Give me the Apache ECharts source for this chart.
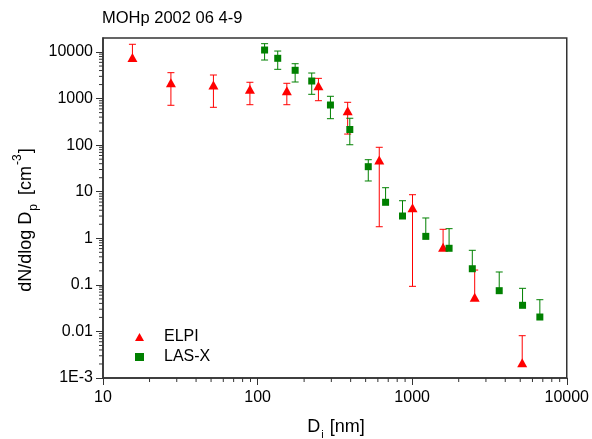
<!DOCTYPE html>
<html><head><meta charset="utf-8">
<script src="https://cdn.jsdelivr.net/npm/echarts@6/dist/echarts.min.js"></script>
<style>html,body{margin:0;padding:0;background:#fff}#c{width:592px;height:439px}</style>
</head><body><div id="c"></div>
<script>
// ELPI: diameter (nm), dN/dlogDp, lower, upper
const elpiX  = [15.5, 27.5, 51.8, 89.2, 154.6, 247.5, 382.6, 612.5, 1005, 1585, 2538, 5150];
const elpiY  = [7600, 2190, 1955, 1582, 1476, 1890, 549, 48, 4.54, 0.64, 0.054, 0.00213];
const elpiLo = [7600, 718, 650, 739, 739, 900, 173, 1.77, 0.093, 0.64, 0.054, 0.00213];
const elpiHi = [14650, 3600, 3210, 2240, 2130, 2720, 832, 90, 8.63, 1.56, 0.208, 0.0081];
// LAS-X
const lasX  = [111, 135, 175, 224, 296, 395, 520, 673, 866, 1225, 1733, 2449, 3657, 5177, 6698];
const lasY  = [11040, 7330, 4050, 2385, 728, 217, 34.5, 5.93, 3.01, 1.10, 0.61, 0.222, 0.075, 0.0364, 0.0204];
const lasLo = [6730, 4250, 2270, 1236, 370, 102, 17, 5.93, 3.01, 1.10, 0.61, 0.222, 0.075, 0.0364, 0.0204];
const lasHi = [15100, 10500, 5610, 3540, 1120, 378, 48.7, 12.2, 6.41, 2.73, 1.61, 0.552, 0.189, 0.0843, 0.048];
// ticks
const xTicks = [10, 100, 1000, 10000];
const xTickLabels = ['10', '100', '1000', '10000'];
const yTicks = [0.001, 0.01, 0.1, 1, 10, 100, 1000, 10000];
const yTickLabels = ['1E-3', '0.01', '0.1', '1', '10', '100', '1000', '10000'];
const xMinorTicks = [20,30,40,50,60,70,80,90, 200,300,400,500,600,700,800,900, 2000,3000,4000,5000,6000,7000,8000,9000];
const yMinorTicks = [0.002,0.003,0.004,0.005,0.006,0.007,0.008,0.009,
  0.02,0.03,0.04,0.05,0.06,0.07,0.08,0.09, 0.2,0.3,0.4,0.5,0.6,0.7,0.8,0.9,
  2,3,4,5,6,7,8,9, 20,30,40,50,60,70,80,90, 200,300,400,500,600,700,800,900,
  2000,3000,4000,5000,6000,7000,8000,9000];
const xMin = 10, xMax = 10000, yMin = 0.001, yMax = 20000;

const FONT = 'Liberation Sans, Arial, sans-serif';
const RED = '#ff0000', GREEN = '#008000', AX = '#333';

function lab(ticks, labels){
  return function(v){
    for (let i=0;i<ticks.length;i++){
      if (Math.abs(Math.log10(v) - Math.log10(ticks[i])) < 1e-6) return labels[i];
    }
    return '';
  };
}
function rows(x,y,lo,hi){ return x.map((v,i)=>[v,y[i],lo[i],hi[i]]); }

function errRender(color){
  return function(params, api){
    const x = api.value(0), y = api.value(1), lo = api.value(2), hi = api.value(3);
    const pHi = api.coord([x, hi]);
    const pLo = api.coord([x, lo]);
    const w = 3.5;
    const ch = [];
    const style = {stroke: color, lineWidth: 1};
    ch.push({type:'line', shape:{x1:pHi[0], y1:pHi[1], x2:pLo[0], y2:pLo[1]}, style});
    if (hi > y) ch.push({type:'line', shape:{x1:pHi[0]-w, y1:pHi[1], x2:pHi[0]+w, y2:pHi[1]}, style});
    if (lo < y) ch.push({type:'line', shape:{x1:pLo[0]-w, y1:pLo[1], x2:pLo[0]+w, y2:pLo[1]}, style});
    return {type:'group', children: ch};
  };
}
function xMinorRender(params, api){
  const p = api.coord([api.value(0), yMin]);
  return {type:'line', shape:{x1:p[0], y1:p[1], x2:p[0], y2:p[1]+4}, style:{stroke: AX, lineWidth: 1}};
}
function yMinorRender(params, api){
  const p = api.coord([xMin, api.value(1)]);
  return {type:'line', shape:{x1:p[0], y1:p[1], x2:p[0]-4, y2:p[1]}, style:{stroke: AX, lineWidth: 1}};
}

const chart = echarts.init(document.getElementById('c'), null, {renderer:'canvas'});
chart.setOption({
  animation: false,
  backgroundColor: '#fff',
  textStyle: {fontFamily: FONT},
  grid: {left: 103, right: 24, top: 38, bottom: 61, show: true, borderColor: AX, borderWidth: 1.5, backgroundColor: 'transparent'},
  title: {text: 'MOHp 2002 06 4-9', left: 102, top: 10, padding: 0,
    textStyle: {fontFamily: FONT, fontSize: 16.5, fontWeight: 'normal', color: '#000'}},
  legend: {
    orient: 'vertical', left: 135, top: 329, itemGap: 4, itemWidth: 9, itemHeight: 8, padding: 0,
    data: ['ELPI', 'LAS-X'],
    textStyle: {fontFamily: FONT, fontSize: 16, color: '#000', lineHeight: 16, padding: [0,0,0,15]}
  },
  xAxis: {
    type: 'log', logBase: 10, min: xMin, max: xMax,
    axisLine: {show: true, lineStyle: {color: AX, width: 1.5}},
    axisTick: {show: true, length: 7, lineStyle: {color: AX, width: 1}},
    minorTick: {show: false},
    splitLine: {show: false},
    axisLabel: {fontFamily: FONT, fontSize: 16, color: '#000', margin: 12, formatter: lab(xTicks, xTickLabels)}
  },
  yAxis: {
    type: 'log', logBase: 10, min: yMin, max: yMax,
    axisLine: {show: true, lineStyle: {color: AX, width: 1.5}},
    axisTick: {show: true, length: 7, lineStyle: {color: AX, width: 1}},
    minorTick: {show: false},
    splitLine: {show: false},
    axisLabel: {fontFamily: FONT, fontSize: 16, color: '#000', margin: 10, showMaxLabel: false, formatter: lab(yTicks, yTickLabels)}
  },
  graphic: [{
    type: 'text', x: 26, y: 220, rotation: Math.PI/2,
    style: {
      text: '{a|dN/dlog D}{s|p}{a| [cm}{u|-3}{a|]}',
      align: 'center', verticalAlign: 'middle',
      rich: {
        a: {fontFamily: FONT, fontSize: 18, fill: '#000', lineHeight: 28, verticalAlign: 'middle'},
        s: {fontFamily: FONT, fontSize: 12, fill: '#000', lineHeight: 28, verticalAlign: 'bottom', padding: [0, 4, 0, 1]},
        u: {fontFamily: FONT, fontSize: 12, fill: '#000', lineHeight: 28, verticalAlign: 'top', padding: [0, 1, 0, 1]}
      }
    }
  }, {
    type: 'text', x: 336, y: 427,
    style: {
      text: '{a|D}{s|i}{a| [nm]}',
      align: 'center', verticalAlign: 'middle',
      rich: {
        a: {fontFamily: FONT, fontSize: 18, fill: '#000', lineHeight: 26, verticalAlign: 'middle'},
        s: {fontFamily: FONT, fontSize: 11, fill: '#000', lineHeight: 26, verticalAlign: 'bottom', padding: [0, 1, 0, 1]}
      }
    }
  }],
  series: [
    {name: 'xminor', type: 'custom', renderItem: xMinorRender, data: xMinorTicks.map(v=>[v, yMin]), encode: {x: 0, y: 1}, silent: true, clip: false, z: 1},
    {name: 'yminor', type: 'custom', renderItem: yMinorRender, data: yMinorTicks.map(v=>[xMin, v]), encode: {x: 0, y: 1}, silent: true, clip: false, z: 1},
    {name: 'ELPI-err', type: 'custom', renderItem: errRender(RED), data: rows(elpiX, elpiY, elpiLo, elpiHi), encode: {x: 0, y: [2, 3]}, z: 2, silent: true},
    {name: 'LAS-X-err', type: 'custom', renderItem: errRender(GREEN), data: rows(lasX, lasY, lasLo, lasHi), encode: {x: 0, y: [2, 3]}, z: 2, silent: true},
    {name: 'ELPI', type: 'scatter', symbol: 'triangle', symbolSize: [10, 9], itemStyle: {color: RED, opacity: 1}, data: elpiX.map((v,i)=>[v, elpiY[i]]), z: 3},
    {name: 'LAS-X', type: 'scatter', symbol: 'rect', symbolSize: 7, itemStyle: {color: GREEN, opacity: 1}, data: lasX.map((v,i)=>[v, lasY[i]]), z: 3}
  ]
});
</script></body></html>
